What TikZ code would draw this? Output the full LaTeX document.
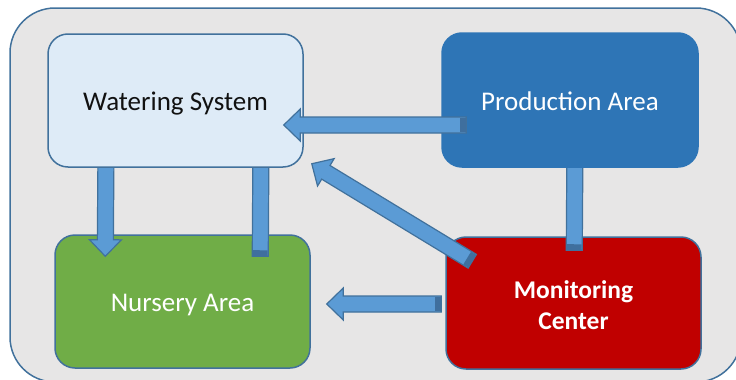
\documentclass[tikz,border=0pt]{standalone}
\usepackage{fontspec}
\setmainfont{Carlito}
\usetikzlibrary{calc}
\definecolor{outerfill}{HTML}{E7E6E6}
\definecolor{edgeblue}{HTML}{41719C}
\definecolor{waterfill}{HTML}{DEEBF7}
\definecolor{prodfill}{HTML}{2E75B6}
\definecolor{nursfill}{HTML}{70AD47}
\definecolor{monfill}{HTML}{C00000}
\definecolor{arrowfill}{HTML}{5B9BD5}
\definecolor{capfill}{HTML}{3F6F9E}
\definecolor{textdark}{HTML}{111111}
\tikzset{
  outerbox/.style={draw=edgeblue, fill=outerfill, line width=1.5pt, rounded corners=45pt,
    minimum width=731pt, minimum height=374pt, inner sep=0pt},
  box/.style={rectangle, rounded corners=20pt, line width=1.5pt, inner sep=0pt,
    minimum width=255pt, minimum height=133pt, font=\fontsize{27pt}{31pt}\selectfont, align=center,
    text height=20pt, text depth=0pt},
  blockarrow/.style={draw=edgeblue, fill=arrowfill, line width=1.2pt, line join=miter,
    to path={
      ($(\tikztotarget)!16.5pt!(\tikztostart)$) coordinate (bah)
      ($(\tikztostart)!8pt!90:(\tikztotarget)$)
      -- ($(bah)!8pt!90:(\tikztotarget)$)
      -- ($(bah)!16pt!90:(\tikztotarget)$)
      -- (\tikztotarget)
      -- ($(bah)!16pt!-90:(\tikztotarget)$)
      -- ($(bah)!8pt!-90:(\tikztotarget)$)
      -- ($(\tikztostart)!8pt!-90:(\tikztotarget)$)
      -- cycle}},
  tailcap/.style={fill=capfill,
    to path={
      ($(\tikztostart)!6pt!(\tikztotarget)$) coordinate (bac)
      ($(\tikztostart)!7.4pt!90:(\tikztotarget)$)
      -- ($(bac)!7.4pt!90:(\tikztotarget)$)
      -- ($(bac)!7.4pt!-90:(\tikztotarget)$)
      -- ($(\tikztostart)!7.4pt!-90:(\tikztotarget)$)
      -- cycle}}
}
\begin{document}
\begin{tikzpicture}[x=1pt,y=-1pt]
\useasboundingbox (0,0) rectangle (736,380);
\node[outerbox] (frame) at (375.5,195) {};
% lower boxes
\node[box, draw=edgeblue, fill=nursfill, text=white] (nurs) at (182.5,301.5) {Nursery Area};
\node[box, draw=edgeblue, fill=monfill, text=white, font=\fontsize{25.5pt}{31pt}\selectfont\bfseries, minimum height=132pt, text height=52pt, text depth=0pt] (mon) at (573.5,303) {Monitoring\\Center};
% anchors of the upper boxes (boxes drawn later, over the hidden arrow heads)
\coordinate (waterSW) at (48,167);
\coordinate (prodSW) at (442,167);
\coordinate (a4s) at ($(waterSW)+(58,-17)$);
\coordinate (a4t) at ($(nurs.north west)+(51,22)$);
\coordinate (a5s) at ($(nurs.north west)+(206,22)$);
\coordinate (a5t) at ($(waterSW)+(213,-27)$);
\coordinate (a6s) at ($(mon.north west)+(129,14)$);
\coordinate (a6t) at ($(prodSW)+(133,-27)$);
\draw[blockarrow] (a4s) to (a4t);
\draw[blockarrow] (a5s) to (a5t);
\fill[tailcap] (a5s) to (a5t);
\draw[blockarrow] (a6s) to (a6t);
\fill[tailcap] (a6s) to (a6t);
% upper boxes
\node[box, draw=edgeblue, fill=waterfill, text=textdark] (water) at (175.5,100.5) {Watering System};
\node[box, draw=prodfill, fill=prodfill, text=white, minimum width=256pt, minimum height=134pt] (prod) at (570,100) {Production Area};
% remaining arrows
\coordinate (a1s) at ($(prod.west)+(25,25)$);
\coordinate (a1t) at ($(water.east)+(-20,24.5)$);
\coordinate (a2s) at ($(mon.north west)+(27,25)$);
\coordinate (a2t) at ($(water.south east)+(8,-4)$);
\coordinate (a3s) at ($(mon.west)+(-4,1)$);
\coordinate (a3t) at ($(nurs.east)+(16,2.5)$);
\draw[blockarrow] (a1s) to (a1t);
\fill[tailcap] (a1s) to (a1t);
\draw[blockarrow] (a2s) to (a2t);
\fill[tailcap] (a2s) to (a2t);
\draw[blockarrow] (a3s) to (a3t);
\fill[tailcap] (a3s) to (a3t);
\end{tikzpicture}
\end{document}
